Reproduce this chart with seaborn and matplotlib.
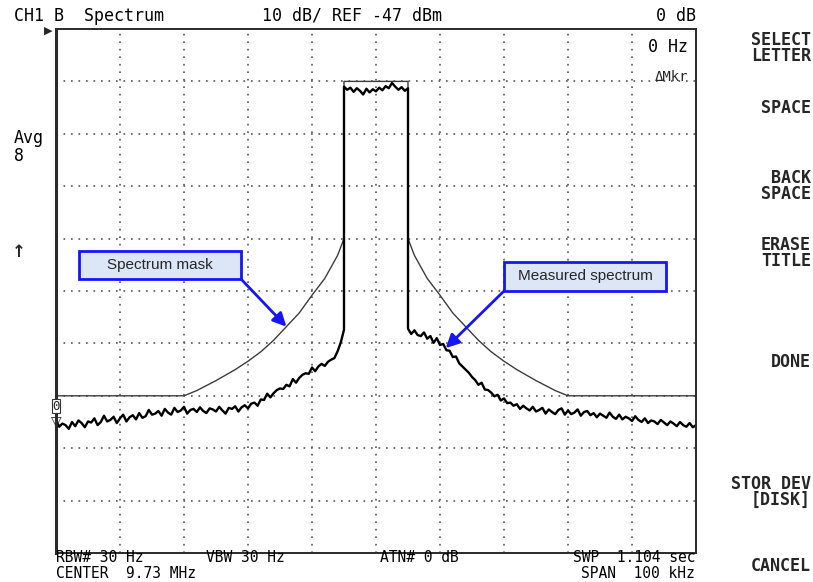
import numpy as np
import pandas as pd
import matplotlib
matplotlib.use("Agg")
import matplotlib.pyplot as plt
import seaborn as sns
from matplotlib.patches import Rectangle

# ---------------- data (levels relative to REF, dB) ----------------
REF_DBM = -47.0

mask_freq_khz = [-50, -30, -28, -25, -22, -20, -18, -16, -14, -12, -10, -8, -6, -5, -5,
                 5, 5, 6, 8, 10, 12, 14, 16, 18, 20, 22, 25, 28, 30, 50]
mask_rel_db = [-70, -70, -69.0, -67.1, -65.0, -63.4, -61.6, -59.4, -56.8, -54.2,
               -50.8, -47.6, -43.2, -40, -10,
               -10, -40, -43.2, -47.6, -50.8, -54.2, -56.8, -59.4, -61.6, -63.4,
               -65.0, -67.1, -69.0, -70, -70]

# measured spectrum, left skirt: -50 .. -5 kHz, 0.5 kHz steps
spec_left_db = [
    -74.6, -75.9, -75.3, -75.6, -76.3, -75.0, -75.8, -74.7, -75.2, -76.0,
    -74.9, -75.1, -74.3, -75.6, -75.0, -73.8, -74.9, -74.6, -74.0, -75.2,
    -74.3, -73.6, -74.9, -74.1, -73.7, -74.5, -73.3, -74.2, -73.9, -72.7,
    -73.6, -73.4, -72.9, -73.8, -72.5, -73.2, -73.6, -72.3, -73.1, -72.8,
    -72.1, -73.4, -72.7, -72.5, -73.1, -72.2, -72.9, -73.3, -72.4, -72.6,
    -73.0, -72.1, -72.8, -73.4, -72.3, -72.5, -72.0, -73.0, -72.2, -71.8,
    -72.4, -71.5, -71.3, -71.9, -70.7, -70.8, -69.6, -70.3, -69.5, -68.9,
    -68.6, -68.7, -67.9, -68.2, -66.8, -67.5, -66.6, -66.0, -65.7, -65.8,
    -64.6, -65.3, -64.4, -63.9, -64.3, -63.5, -63.1, -62.8, -61.5, -59.8,
    -57.4,
]
# top of the channel: -5 .. +5 kHz, 0.5 kHz steps
spec_top_db = [
    -11.0, -11.6, -11.2, -12.0, -11.3, -11.8, -12.5, -11.4, -12.1, -11.5,
    -11.9, -11.2, -11.7, -10.9, -11.3, -10.3, -11.0, -11.6, -11.1, -11.8,
    -11.3,
]
# right skirt: +5 .. +50 kHz, 0.5 kHz steps
spec_right_db = [
    -57.2, -58.2, -57.5, -58.4, -58.6, -57.9, -59.1, -58.6, -59.9, -59.0,
    -60.3, -60.1, -61.3, -61.4, -62.6, -62.5, -63.8, -64.4, -65.0, -65.6,
    -66.4, -67.0, -67.9, -67.5, -68.8, -68.9, -69.4, -70.1, -69.8, -70.9,
    -70.5, -71.4, -71.3, -71.9, -71.6, -72.5, -71.9, -72.4, -72.8, -72.1,
    -73.0, -72.7, -72.3, -73.4, -72.6, -73.1, -73.5, -72.7, -72.4, -73.6,
    -72.8, -73.5, -73.2, -72.6, -73.8, -73.1, -72.9, -73.7, -73.3, -74.1,
    -73.4, -73.8, -74.2, -73.2, -74.0, -74.4, -73.6, -74.5, -74.0, -74.3,
    -74.8, -73.9, -74.6, -75.0, -74.3, -75.2, -74.7, -74.9, -75.4, -74.6,
    -75.1, -75.6, -74.9, -75.3, -75.8, -75.0, -75.6, -75.9, -75.2, -76.0,
    -75.6,
]

# ---------------- build tables ----------------
f_left = np.linspace(-50, -5, len(spec_left_db))
f_top = np.linspace(-5, 5, len(spec_top_db))
f_right = np.linspace(5, 50, len(spec_right_db))
spec_df = pd.DataFrame({
    "freq": np.concatenate([f_left, f_top, f_right]),
    "level": REF_DBM + np.array(spec_left_db + spec_top_db + spec_right_db),
})
mask_df = pd.DataFrame({"freq": mask_freq_khz,
                        "level": REF_DBM + np.array(mask_rel_db)})

# ---------------- figure ----------------
sns.set_style("white")
plt.rcParams["font.family"] = ["DejaVu Sans Mono", "DejaVu Sans"]

W, H = 813, 582
fig = plt.figure(figsize=(W / 100, H / 100), dpi=100)
ax = fig.add_axes([56 / W, 29 / H, 640 / W, 524 / H])


def px(x, y):
    return (x / W, 1 - y / H)


sns.lineplot(data=mask_df, x="freq", y="level", ax=ax, color="#3c3c3c",
             lw=1.0, sort=False, estimator=None)
sns.lineplot(data=spec_df, x="freq", y="level", ax=ax, color="black",
             lw=1.7, sort=False, estimator=None)

ax.set_xlim(-50, 50)
ax.set_ylim(REF_DBM - 100, REF_DBM)
ax.set_xticks(np.arange(-40, 50, 10))
ax.set_yticks(np.arange(REF_DBM - 90, REF_DBM, 10))
ax.grid(True, color="#555555", lw=1.2, linestyle=(0, (1, 3.5)))
ax.tick_params(length=0, labelbottom=False, labelleft=False)
ax.set_xlabel("")
ax.set_ylabel("")
for s in ax.spines.values():
    s.set_color("#2a2a2a")
    s.set_linewidth(1.4)
ax.spines["left"].set_linewidth(2.2)

mono = dict(fontfamily=["DejaVu Sans Mono", "DejaVu Sans"], fontsize=12, color="black")
mono_s = dict(fontfamily=["DejaVu Sans Mono", "DejaVu Sans"], fontsize=10.5, color="black")

# header
fig.text(*px(14, 16), "CH1 B  Spectrum", ha="left", va="center", **mono)
fig.text(*px(262, 16), "10 dB/ REF -47 dBm", ha="left", va="center", **mono)
fig.text(*px(696, 16), "0 dB", ha="right", va="center", **mono)
fig.text(*px(688, 47), "0 Hz", ha="right", va="center", **mono)
fig.text(*px(688, 77), "ΔMkr", ha="right", va="center",
         fontfamily=["DejaVu Sans Mono", "DejaVu Sans"], fontsize=10)
fig.text(*px(48, 31), "▶", ha="center", va="center", fontsize=8,
         fontfamily="DejaVu Sans")

# left side
fig.text(*px(14, 138), "Avg", ha="left", va="center", **mono)
fig.text(*px(14, 156), "8", ha="left", va="center", **mono)
fig.text(*px(19, 252), "↑", ha="center", va="center", fontsize=12,
         fontweight="bold", fontfamily="DejaVu Sans")
fig.text(*px(56, 406), "0", ha="center", va="center", fontsize=9,
         fontfamily="DejaVu Sans Mono",
         bbox=dict(boxstyle="square,pad=0.05", fc="white", ec="#333333", lw=0.8))
fig.text(*px(56, 421), "▽", ha="center", va="center", fontsize=10,
         fontfamily="DejaVu Sans")

# bottom status lines
fig.text(*px(56, 558), "RBW# 30 Hz", ha="left", va="center", **mono_s)
fig.text(*px(206, 558), "VBW 30 Hz", ha="left", va="center", **mono_s)
fig.text(*px(380, 558), "ATN# 0 dB", ha="left", va="center", **mono_s)
fig.text(*px(695, 558), "SWP  1.104 sec", ha="right", va="center", **mono_s)
fig.text(*px(56, 573), "CENTER  9.73 MHz", ha="left", va="center", **mono_s)
fig.text(*px(695, 573), "SPAN  100 kHz", ha="right", va="center", **mono_s)

# soft keys
soft = dict(fontfamily=["DejaVu Sans Mono", "DejaVu Sans"], fontsize=12,
            fontweight="bold", ha="right", va="center", linespacing=0.85)
fig.text(*px(811, 48), "SELECT\nLETTER", **soft)
fig.text(*px(811, 108), "SPACE", **soft)
fig.text(*px(811, 186), "BACK\nSPACE", **soft)
fig.text(*px(811, 253), "ERASE\nTITLE", **soft)
fig.text(*px(811, 362), "DONE", **soft)
fig.text(*px(811, 492), "STOR DEV\n[DISK]", **soft)
fig.text(*px(811, 566), "CANCEL", **soft)

# call-out boxes
box_fc, box_ec = "#dde6f6", "#1515f5"
fig.add_artist(Rectangle(px(79, 279), 162 / W, 28 / H, transform=fig.transFigure,
                         fc=box_fc, ec=box_ec, lw=2))
fig.text(*px(160, 265), "Spectrum mask", ha="center", va="center",
         fontfamily="Liberation Sans", fontsize=11)
fig.add_artist(Rectangle(px(504, 291), 162 / W, 29 / H, transform=fig.transFigure,
                         fc=box_fc, ec=box_ec, lw=2))
fig.text(*px(585, 276), "Measured spectrum", ha="center", va="center",
         fontfamily="Liberation Sans", fontsize=11)

arrow = dict(arrowstyle="-|>", color=box_ec, lw=2, mutation_scale=20,
             shrinkA=0, shrinkB=0)
ax.annotate("", xy=(-14, REF_DBM - 56.8), xycoords="data",
            xytext=px(241, 279), textcoords="figure fraction", arrowprops=arrow)
ax.annotate("", xy=(10.9, REF_DBM - 60.9), xycoords="data",
            xytext=px(504, 291), textcoords="figure fraction", arrowprops=arrow)

fig.savefig("out.png", dpi=100)
